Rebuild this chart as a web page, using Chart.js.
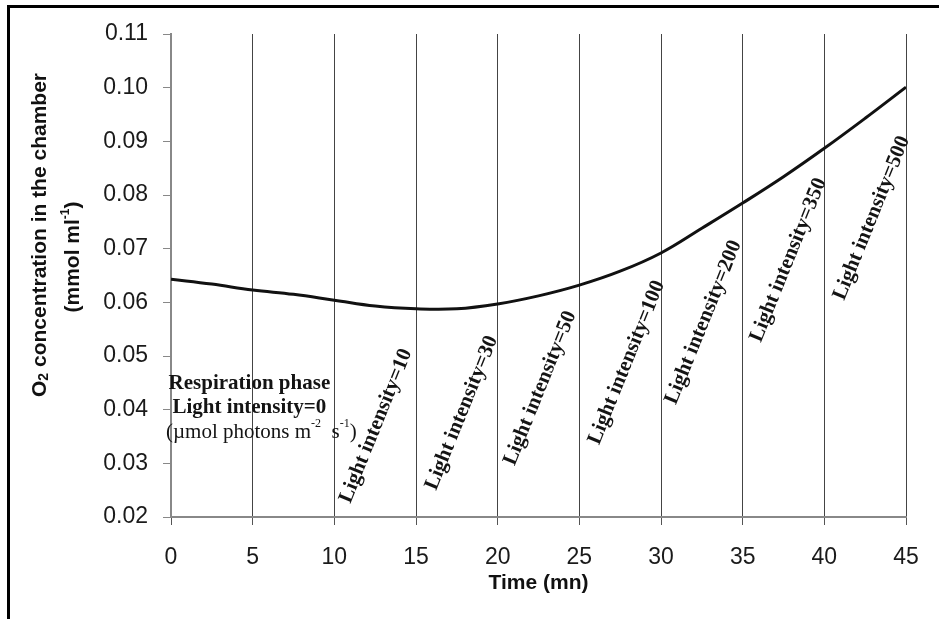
<!DOCTYPE html>
<html>
<head>
<meta charset="utf-8">
<script src="https://cdn.jsdelivr.net/npm/chart.js@4/dist/chart.umd.min.js"></script>
<style>
  html, body { margin: 0; padding: 0; background: #fff; }
  #wrap { position: relative; width: 939px; height: 619px; overflow: hidden; }
  #o2Chart { position: absolute; left: 0; top: 0; }
  #frame { position: absolute; left: 7px; top: 5px; width: 940px; height: 620px;
           border-top: 3px solid #000; border-left: 3px solid #000; pointer-events: none; }
</style>
</head>
<body>
<div id="wrap">
  <canvas id="o2Chart" width="939" height="619"></canvas>
  <div id="frame"></div>
</div>
<script>
// Time (mn) and O2 concentration in the chamber (mmol/ml)
const tempo = [0, 2.5, 5, 7.5, 10, 12.5, 15, 17.5, 20, 22.5, 25, 27.5, 30, 32.5, 35, 37.5, 40, 42.5, 45];
const concentracaoO2 = [0.0643, 0.0634, 0.0623, 0.0615, 0.0604, 0.0593, 0.0588, 0.0588, 0.0597, 0.0612,
                        0.0632, 0.0658, 0.0692, 0.0738, 0.0785, 0.0834, 0.0887, 0.0943, 0.1001];

// Light steps (µmol photons m-2 s-1), one per 5 mn interval starting at 10 mn
const intensidades = [10, 30, 50, 100, 200, 350, 500];

const ticksTempo = [0, 5, 10, 15, 20, 25, 30, 35, 40, 45];
const ticksO2 = [0.02, 0.03, 0.04, 0.05, 0.06, 0.07, 0.08, 0.09, 0.10, 0.11];

const fonteSans = '"Liberation Sans", Arial, sans-serif';
const fonteSerif = '"Liberation Serif", "Times New Roman", serif';

// draws a run of text pieces, some raised/lowered, centred on (0,0)
function textoComposto(ctx, partes) {
  const larguras = partes.map(p => { ctx.font = p.font; return ctx.measureText(p.t).width; });
  let x = -larguras.reduce((a, b) => a + b, 0) / 2;
  partes.forEach((p, i) => {
    ctx.font = p.font;
    ctx.fillText(p.t, x, p.dy || 0);
    x += larguras[i];
  });
}

const anotacoes = {
  id: 'anotacoes',
  afterDatasetsDraw(chart, args, opts) {
    const { ctx, chartArea, scales: { x, y } } = chart;
    ctx.save();
    ctx.fillStyle = '#141414';
    ctx.textBaseline = 'middle';
    ctx.textAlign = 'left';

    // slanted light intensity labels
    intensidades.forEach((v, i) => {
      const [ax, ay] = opts.posicoes[i];
      ctx.save();
      ctx.translate(x.getPixelForValue(ax), y.getPixelForValue(ay));
      ctx.rotate(-68 * Math.PI / 180);
      textoComposto(ctx, [{ t: 'Light intensity=' + v, font: 'bold 21px ' + fonteSerif }]);
      ctx.restore();
    });

    // respiration phase block
    const rx = x.getPixelForValue(4.8);
    const ry = y.getPixelForValue(0.0403);
    ctx.save();
    ctx.translate(rx, ry - 24);
    textoComposto(ctx, [{ t: 'Respiration phase', font: 'bold 21px ' + fonteSerif }]);
    ctx.translate(0, 24);
    textoComposto(ctx, [{ t: 'Light intensity=0', font: 'bold 21px ' + fonteSerif }]);
    ctx.translate(12, 24);
    textoComposto(ctx, [
      { t: '(\u00b5mol photons m', font: '21px ' + fonteSerif },
      { t: '-2', font: '12px ' + fonteSerif, dy: -8 },
      { t: '  s', font: '21px ' + fonteSerif },
      { t: '-1', font: '12px ' + fonteSerif, dy: -8 },
      { t: ')', font: '21px ' + fonteSerif }
    ]);
    ctx.restore();

    // axis titles
    ctx.fillStyle = '#111';
    ctx.save();
    ctx.translate((chartArea.left + chartArea.right) / 2, chartArea.bottom + 66);
    textoComposto(ctx, [{ t: 'Time (mn)', font: 'bold 21px ' + fonteSans }]);
    ctx.restore();

    ctx.save();
    ctx.translate(40, 235);
    ctx.rotate(-Math.PI / 2);
    textoComposto(ctx, [
      { t: 'O', font: 'bold 21px ' + fonteSans },
      { t: '2', font: 'bold 14px ' + fonteSans, dy: 4 },
      { t: ' concentration in the chamber', font: 'bold 21px ' + fonteSans }
    ]);
    ctx.restore();

    ctx.save();
    ctx.translate(73, 257);
    ctx.rotate(-Math.PI / 2);
    textoComposto(ctx, [
      { t: '(mmol ml', font: 'bold 21px ' + fonteSans },
      { t: '-1', font: 'bold 12px ' + fonteSans, dy: -7 },
      { t: ')', font: 'bold 21px ' + fonteSans }
    ]);
    ctx.restore();

    ctx.restore();
  }
};

const ctx = document.getElementById('o2Chart').getContext('2d');
new Chart(ctx, {
  type: 'line',
  data: {
    datasets: [{
      data: tempo.map((t, i) => ({ x: t, y: concentracaoO2[i] })),
      borderColor: '#111',
      borderWidth: 3,
      pointRadius: 0,
      tension: 0.4,
      fill: false
    }]
  },
  options: {
    responsive: false,
    animation: false,
    layout: { padding: { top: 34, right: 33, left: 0, bottom: 0 } },
    plugins: {
      legend: { display: false },
      tooltip: { enabled: false },
      anotacoes: {
        posicoes: [[12.55, 0.0370], [17.8, 0.0394], [22.6, 0.0440], [27.9, 0.0488],
                   [32.6, 0.0563], [37.8, 0.0679], [42.9, 0.0757]]
      }
    },
    scales: {
      x: {
        type: 'linear',
        min: 0,
        max: 45,
        afterBuildTicks: s => { s.ticks = ticksTempo.map(v => ({ value: v })); },
        afterFit: s => { s.height = 102; },
        grid: { color: '#444', lineWidth: 1, tickLength: 8, tickColor: '#555' },
        border: { color: '#888', width: 2 },
        ticks: { color: '#1a1a1a', padding: 19, maxRotation: 0, font: { family: fonteSans, size: 23 } }
      },
      y: {
        min: 0.02,
        max: 0.11,
        afterBuildTicks: s => { s.ticks = ticksO2.map(v => ({ value: v })); },
        afterFit: s => { s.width = 171; },
        grid: { drawOnChartArea: false, tickLength: 8, color: '#888' },
        border: { color: '#888', width: 2 },
        ticks: { color: '#1a1a1a', padding: 15, callback: v => v.toFixed(2), font: { family: fonteSans, size: 23 } }
      }
    }
  },
  plugins: [anotacoes]
});
</script>
</body>
</html>
